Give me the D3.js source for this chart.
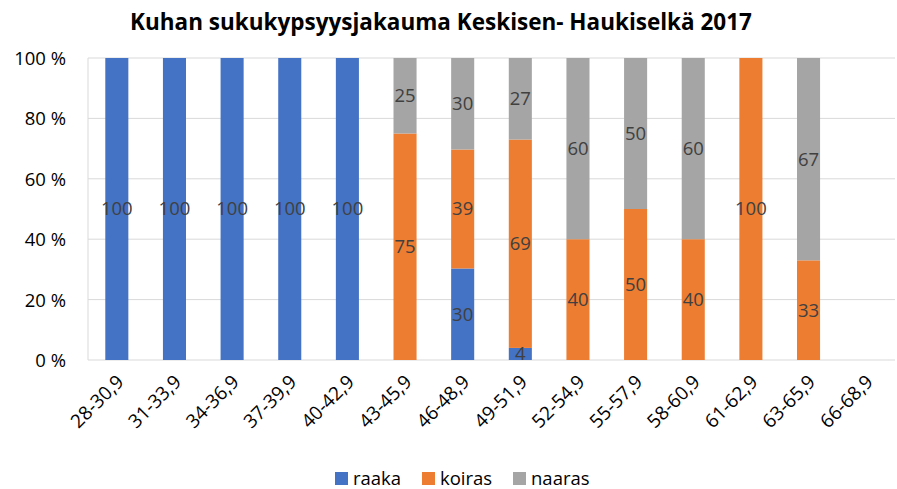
<!DOCTYPE html>
<html>
<head>
<meta charset="utf-8">
<script src="https://cdn.jsdelivr.net/npm/d3@7"></script>
<style>
  html, body { margin: 0; padding: 0; background: #fff; }
  svg text { font-family: "Open Sans", "Liberation Sans", sans-serif; }
</style>
</head>
<body>
<svg id="chart" width="897" height="489"></svg>
<script>
// Size classes (cm)
const categories = ["28-30,9", "31-33,9", "34-36,9", "37-39,9", "40-42,9", "43-45,9", "46-48,9",
  "49-51,9", "52-54,9", "55-57,9", "58-60,9", "61-62,9", "63-65,9", "66-68,9"];
// Share (%) per maturity group
const raaka  = [100, 100, 100, 100, 100, 0, 30, 4, 0, 0, 0, 0, 0, 0];
const koiras = [0, 0, 0, 0, 0, 75, 39, 69, 40, 50, 40, 100, 33, 0];
const naaras = [0, 0, 0, 0, 0, 25, 30, 27, 60, 50, 60, 0, 67, 0];
const seriesNames = ["raaka", "koiras", "naaras"];
const seriesColors = ["#4472C4", "#ED7D31", "#A5A5A5"];
const yTicks = [0, 0.2, 0.4, 0.6, 0.8, 1];
const title = "Kuhan sukukypsyysjakauma Keskisen- Haukiselkä 2017";

const svg = d3.select("#chart");
const W = 897, H = 489;
const m = { left: 88, right: 2, top: 58, bottom: 129 };

const rows = categories.map((c, i) => ({ cat: c, raaka: raaka[i], koiras: koiras[i], naaras: naaras[i] }));
const stack = d3.stack().keys(seriesNames).offset(d3.stackOffsetExpand);
const layers = stack(rows);

const x = d3.scaleBand().domain(categories).range([m.left, W - m.right]).paddingInner(0.6).paddingOuter(0.3);
const y = d3.scaleLinear().domain([0, 1]).range([H - m.bottom, m.top]);

// Gridlines
svg.append("g").selectAll("line").data(yTicks).join("line")
  .attr("x1", m.left).attr("x2", W - m.right)
  .attr("y1", d => y(d)).attr("y2", d => y(d))
  .attr("stroke", "#D9D9D9").attr("stroke-width", 1);
// Left axis line
svg.append("line").attr("x1", m.left).attr("x2", m.left)
  .attr("y1", y(0)).attr("y2", y(1)).attr("stroke", "#D9D9D9");

// Y axis labels
const yAxis = d3.axisLeft(y).tickValues(yTicks).tickFormat(d => Math.round(d * 100) + " %").tickSize(0).tickPadding(22);
const gy = svg.append("g").attr("transform", `translate(${m.left},0)`).call(yAxis);
gy.select(".domain").remove();
gy.selectAll("text").attr("font-size", 18.5).attr("fill", "#000").attr("dy", "0.35em");

// Bars
const gl = svg.append("g").selectAll("g").data(layers).join("g")
  .attr("fill", (d, i) => seriesColors[i]);
gl.selectAll("rect").data(d => d.map(p => ({ p, key: d.key }))).join("rect")
  .attr("x", d => x(d.p.data.cat))
  .attr("width", x.bandwidth())
  .attr("y", d => y(d.p[1]))
  .attr("height", d => Math.max(0, y(d.p[0]) - y(d.p[1])));

// Data labels
const labels = [];
layers.forEach(layer => layer.forEach(p => {
  const v = p.data[layer.key];
  if (v > 0) labels.push({ cat: p.data.cat, v, mid: (p[0] + p[1]) / 2 });
}));
svg.append("g").selectAll("text").data(labels).join("text")
  .attr("x", d => x(d.cat) + x.bandwidth() / 2)
  .attr("y", d => y(d.mid))
  .attr("dy", "0.35em")
  .attr("text-anchor", "middle")
  .attr("font-size", 18.5)
  .attr("fill", "#404040")
  .text(d => d.v);

// X axis labels
const gx = svg.append("g").attr("transform", `translate(0,${y(0)})`)
  .call(d3.axisBottom(x).tickSize(0).tickPadding(0));
gx.select(".domain").remove();
gx.selectAll("text")
  .attr("font-size", 19).attr("fill", "#000")
  .attr("text-anchor", "end")
  .attr("dy", 0)
  .attr("transform", "translate(8,23) rotate(-45)")
  .attr("y", 0).attr("x", 0);

// Title
svg.append("text").attr("x", 441).attr("y", 30).attr("text-anchor", "middle")
  .attr("font-size", 22.5).attr("font-weight", "bold").attr("fill", "#000").text(title);

// Legend
const legendX = [335, 422, 513];
const lg = svg.append("g").selectAll("g").data(seriesNames).join("g")
  .attr("transform", (d, i) => `translate(${legendX[i]},472)`);
lg.append("rect").attr("width", 13).attr("height", 13).attr("fill", (d, i) => seriesColors[i]);
lg.append("text").attr("x", 18).attr("y", 7).attr("dy", "0.35em")
  .attr("font-size", 18.5).attr("fill", "#000").text(d => d);
</script>
</body>
</html>
